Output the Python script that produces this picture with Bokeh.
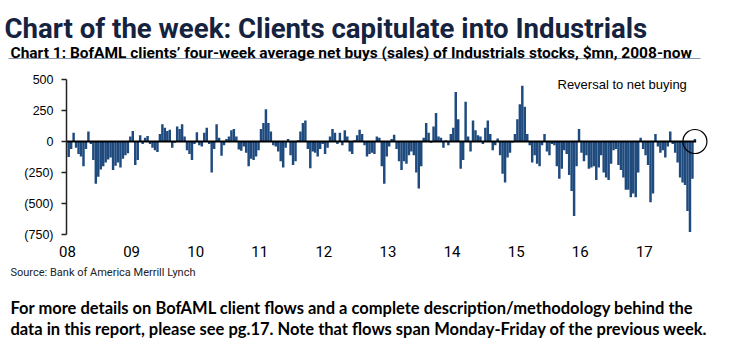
import numpy as np
from bokeh.plotting import figure
from bokeh.layouts import column
from bokeh.models import Range1d, FixedTicker, Label
from bokeh.embed import file_html
from bokeh.resources import INLINE

# ---- data (four-week average net buys, $mn, ~bi-weekly readings) ----
years = [2008, 2009, 2010, 2011, 2012, 2013, 2014, 2015, 2016, 2017]
v2008 = [-125, -60, 70, -50, -100, -120, -200, -60, 80, -20, -150, -340, -285, -225, -200, -170, -145, -130, -230, -195, -170, -210, -140, -110, -95, 40]
v2009 = [85, -190, -150, 50, -20, 30, 45, -20, -50, -70, -85, 60, 140, 110, 85, 95, -50, -10, 120, 100, 140, 40, -70, -100, -150, -20]
v2010 = [75, -30, -40, 70, 110, -20, -250, -60, 140, 30, -115, -30, 20, 40, 90, 100, 40, -65, -75, -40, -90, -200, -140, -150, -120, -70]
v2011 = [100, 150, 260, 150, 80, -30, -40, -80, -160, -210, -50, 20, -110, -190, -160, 10, 80, 150, 170, -60, -215, -80, -90, -120, -60, -20]
v2012 = [-100, -50, 40, 100, 70, -20, 70, -30, 90, 40, -80, -100, 10, 50, 95, 60, -30, -120, -100, -90, -100, 40, 30, -200, -340, -120]
v2013 = [-40, 20, 55, -60, -160, -230, -160, -180, -110, -80, -110, -250, -380, -200, 30, 150, 70, -10, 120, 230, 40, 30, -50, 10, -30, 60]
v2014 = [110, 400, 180, -220, -150, 320, 40, -80, 170, 90, 50, 40, -20, 110, 170, 60, -70, -30, 25, -110, -260, -330, -130, -90, -10, 60]
v2015 = [180, 300, 450, 280, 60, -30, -170, -110, -180, -200, -30, 60, -80, -110, -20, -30, -200, -300, -220, -70, -100, -270, -400, -600, -200, 100]
v2016 = [-90, -160, -110, -220, -210, -200, -310, -210, -110, -250, -290, -310, -180, -70, -60, -190, -230, -290, -390, -390, -450, -420, -450, -250, 30, -60]
v2017 = [-110, -190, -490, -420, 60, -40, -90, -70, -130, -40, 80, -20, -90, -170, -290, -330, -350, -560, -730, -300, 20]
values_by_year = [v2008, v2009, v2010, v2011, v2012, v2013, v2014, v2015, v2016, v2017]

ytick_vals = [500, 250, 0, -250, -500, -750]
ytick_labels = ["500", "250", "0", "(250)", "(500)", "(750)"]
xtick_labels = ["08", "09", "10", "11", "12", "13", "14", "15", "16", "17"]

title_text = "Chart of the week: Clients capitulate into Industrials"
subtitle_text = "Chart 1: BofAML clients\u2019 four-week average net buys (sales) of Industrials stocks, $mn, 2008-now"
source_text = "Source: Bank of America Merrill Lynch"
footer1_text = "For more details on BofAML client flows and a complete description/methodology behind the"
footer2_text = "data in this report, please see pg.17. Note that flows span Monday-Friday of the previous week."
note_text = "Reversal to net buying"

PER_YEAR = 26
xs, ys = [], []
for yr, vals in zip(years, values_by_year):
    for k, v in enumerate(vals):
        xs.append(yr + (k + 0.5) / PER_YEAR)
        ys.append(v)
step = 1.0 / PER_YEAR

BAR = "#1F4A7E"
W = 734


def no_align(f):
    try:
        f.frame_align = False
    except Exception:
        pass


def text_fig(h):
    f = figure(width=W, height=h, x_range=Range1d(0, W), y_range=Range1d(h, 0),
               min_border=0, x_axis_location=None, y_axis_location=None,
               toolbar_location=None, output_backend="svg", title=None)
    f.outline_line_color = None
    f.xgrid.visible = False
    f.ygrid.visible = False
    f.background_fill_color = "white"
    f.border_fill_color = "white"
    no_align(f)
    return f


def lab(fig, text, x, y, size, font, style="normal", color="black", baseline="alphabetic", units="data"):
    fig.add_layout(Label(x=x, y=y, x_units=units, y_units=units, text=text,
                         text_font=font, text_font_size=size, text_font_style=style,
                         text_color=color, text_baseline=baseline))


# ---- header ----
top = text_fig(70)
lab(top, title_text, 4, 28, "27.6px", "Roboto", "bold", "#15233F")
lab(top, subtitle_text, 10, 52, "15.5px", "Roboto", "bold", "black")
top.segment(x0=[8], y0=[58], x1=[700], y1=[58], line_color="#8796B0", line_width=1)

# ---- chart ----
p = figure(width=W, height=192, output_backend="svg", toolbar_location=None,
           x_range=Range1d(2007.985, 2018.063), y_range=Range1d(-750, 500),
           min_border_left=66, min_border_right=22, min_border_top=9, min_border_bottom=28,
           title=None)
no_align(p)
p.outline_line_color = None
p.xgrid.visible = False
p.ygrid.visible = False
p.background_fill_color = "white"
p.border_fill_color = "white"

p.vbar(x=xs, top=ys, bottom=0, width=step, fill_color=BAR, line_color=None)
p.segment(x0=[xs[0] - step], y0=[0], x1=[xs[-1] + step / 2], y1=[0], line_color="black", line_width=2)
p.scatter(x=[xs[-1]], y=[0], marker="circle", size=24, fill_color=None, line_color="black", line_width=1.2)

p.yaxis.ticker = FixedTicker(ticks=ytick_vals)
p.yaxis.major_label_overrides = dict(zip(ytick_vals, ytick_labels))
p.yaxis.axis_line_color = "#222222"
p.yaxis.axis_line_width = 1.5
p.yaxis.major_tick_line_color = "#222222"
p.yaxis.major_tick_line_width = 1.5
p.yaxis.major_tick_out = 5
p.yaxis.major_tick_in = 0
p.yaxis.minor_tick_line_color = None
p.yaxis.major_label_text_font = "Liberation Sans"
p.yaxis.major_label_text_font_size = "12.5px"
p.yaxis.major_label_text_color = "black"
p.yaxis.major_label_standoff = 8

p.xaxis.ticker = FixedTicker(ticks=years)
p.xaxis.major_label_overrides = dict(zip(years, xtick_labels))
p.xaxis.axis_line_color = None
p.xaxis.major_tick_line_color = None
p.xaxis.minor_tick_line_color = None
p.xaxis.major_tick_out = 0
p.xaxis.major_tick_in = 0
p.xaxis.major_label_text_font = "Roboto"
p.xaxis.major_label_text_font_size = "15px"
p.xaxis.major_label_text_color = "black"
p.xaxis.major_label_standoff = 11

lab(p, note_text, 491, 150, "13px", "Liberation Sans", "normal", "black", "middle", units="screen")

# ---- footer ----
bot = text_fig(82)
lab(bot, source_text, 10, 10, "11px", "Roboto", "normal", "#222222", "middle")
lab(bot, footer1_text, 10, 45, "16.5px", "Lato", "bold", "black")
lab(bot, footer2_text, 10, 66, "16.5px", "Lato", "bold", "black")

layout = column(top, p, bot, spacing=0)
open("out.html", "w").write(file_html(layout, INLINE))
